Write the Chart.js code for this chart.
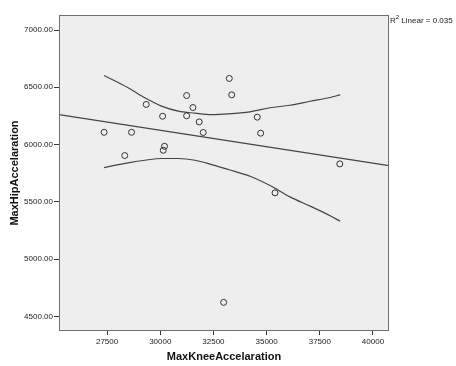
<!DOCTYPE html>
<html>
<head>
<meta charset="utf-8">
<script src="https://cdn.jsdelivr.net/npm/chart.js@4"></script>
<style>
  html, body { margin: 0; padding: 0; background: #fff; }
  #wrap { width: 456px; height: 366px; }
</style>
</head>
<body>
<div id="wrap"><canvas id="chart" width="456" height="366"></canvas></div>
<script>
const kneeAccel = [27360, 28650, 28330, 29340, 30110, 30200, 30140, 31240, 31240, 31535,
  31830, 32020, 33245, 33360, 34560, 34720, 35395, 38440, 32980];
const hipAccel = [6107, 6107, 5904, 6350, 6247, 5985, 5950, 6428, 6251, 6323,
  6198, 6105, 6577, 6434, 6239, 6099, 5578, 5831, 4622];

// Linear fit line, ends at the axis edges
const fitX = [25240, 40753];
const fitY = [6262, 5816];

// 95% confidence band curves
const bandX = [27360, 28490, 29275, 30060, 30845, 31630, 32415, 33200, 34220, 35160, 36100, 37045, 37985, 38456];
const bandUpper = [6603, 6496, 6408, 6335, 6291, 6274, 6262, 6268, 6286, 6321, 6343, 6378, 6411, 6434];
const bandLower = [5799, 5840, 5863, 5878, 5878, 5863, 5825, 5782, 5723, 5642, 5543, 5462, 5379, 5330];

// Tick labels
const xTicks = [27500, 30000, 32500, 35000, 37500, 40000];
const yTicks = [4500, 5000, 5500, 6000, 6500, 7000];

const rSquaredLabel = ["R", "2", " Linear = 0.035"];

const toPoints = (xs, ys) => xs.map((x, i) => ({ x: x, y: ys[i] }));

const fontFamily = "Arial, 'Liberation Sans', sans-serif";
const lineColor = "#444";

// plot panel background + border + R2 label
const panelPlugin = {
  id: "panel",
  beforeDatasetsDraw(chart) {
    const { ctx, chartArea: a } = chart;
    ctx.save();
    ctx.fillStyle = "#eeeeee";
    ctx.fillRect(a.left, a.top, a.right - a.left, a.bottom - a.top);
    ctx.restore();
  },
  afterDraw(chart) {
    const { ctx, chartArea: a } = chart;
    ctx.save();
    ctx.strokeStyle = "#707070";
    ctx.lineWidth = 1;
    ctx.strokeRect(a.left + 0.5, a.top + 0.5, a.right - a.left - 1, a.bottom - a.top - 1);

    // R² label, superscript drawn smaller and raised
    ctx.fillStyle = "#222";
    ctx.textBaseline = "alphabetic";
    let x = a.right + 1;
    ctx.font = "8px " + fontFamily;
    ctx.fillText(rSquaredLabel[0], x, 23);
    x += ctx.measureText(rSquaredLabel[0]).width;
    ctx.font = "6px " + fontFamily;
    ctx.fillText(rSquaredLabel[1], x, 19);
    x += ctx.measureText(rSquaredLabel[1]).width;
    ctx.font = "8px " + fontFamily;
    ctx.fillText(rSquaredLabel[2], x, 23);
    ctx.restore();
  }
};

new Chart(document.getElementById("chart").getContext("2d"), {
  type: "scatter",
  data: {
    datasets: [
      {
        label: "Observed",
        data: toPoints(kneeAccel, hipAccel),
        pointRadius: 3,
        pointHoverRadius: 3,
        pointBorderWidth: 1,
        pointBorderColor: "#333",
        pointBackgroundColor: "rgba(0,0,0,0)"
      },
      {
        label: "Linear",
        data: toPoints(fitX, fitY),
        showLine: true,
        pointRadius: 0,
        borderColor: lineColor,
        borderWidth: 1.2
      },
      {
        label: "Upper",
        data: toPoints(bandX, bandUpper),
        showLine: true,
        pointRadius: 0,
        cubicInterpolationMode: "monotone",
        borderColor: lineColor,
        borderWidth: 1.2
      },
      {
        label: "Lower",
        data: toPoints(bandX, bandLower),
        showLine: true,
        pointRadius: 0,
        cubicInterpolationMode: "monotone",
        borderColor: lineColor,
        borderWidth: 1.2
      }
    ]
  },
  options: {
    responsive: false,
    animation: false,
    events: [],
    layout: { padding: { left: 0, top: 15, right: 67, bottom: 0 } },
    plugins: {
      legend: { display: false },
      tooltip: { enabled: false }
    },
    scales: {
      x: {
        type: "linear",
        min: 25240,
        max: 40753,
        afterBuildTicks: (scale) => { scale.ticks = xTicks.map(v => ({ value: v })); },
        afterFit: (scale) => { scale.height = 35; },
        grid: { drawOnChartArea: false, drawTicks: true, tickLength: 4, color: "#333" },
        border: { display: false },
        ticks: {
          padding: 2,
          maxRotation: 0,
          color: "#222",
          font: { family: fontFamily, size: 8 },
          callback: (v) => String(v)
        },
        title: {
          display: true,
          text: "MaxKneeAccelaration",
          color: "#111",
          font: { family: fontFamily, size: 11, weight: "bold" },
          padding: { top: 0, bottom: 2 }
        }
      },
      y: {
        type: "linear",
        min: 4372,
        max: 7131,
        afterBuildTicks: (scale) => { scale.ticks = yTicks.map(v => ({ value: v })); },
        afterFit: (scale) => { scale.width = 59; },
        grid: { drawOnChartArea: false, drawTicks: true, tickLength: 5, color: "#333" },
        border: { display: false },
        ticks: {
          padding: 1,
          color: "#222",
          font: { family: fontFamily, size: 8 },
          callback: (v) => v.toFixed(2)
        },
        title: {
          display: true,
          text: "MaxHipAccelaration",
          color: "#111",
          font: { family: fontFamily, size: 11, weight: "bold" },
          padding: { top: 8, bottom: 0 }
        }
      }
    }
  },
  plugins: [panelPlugin]
});
</script>
</body>
</html>
